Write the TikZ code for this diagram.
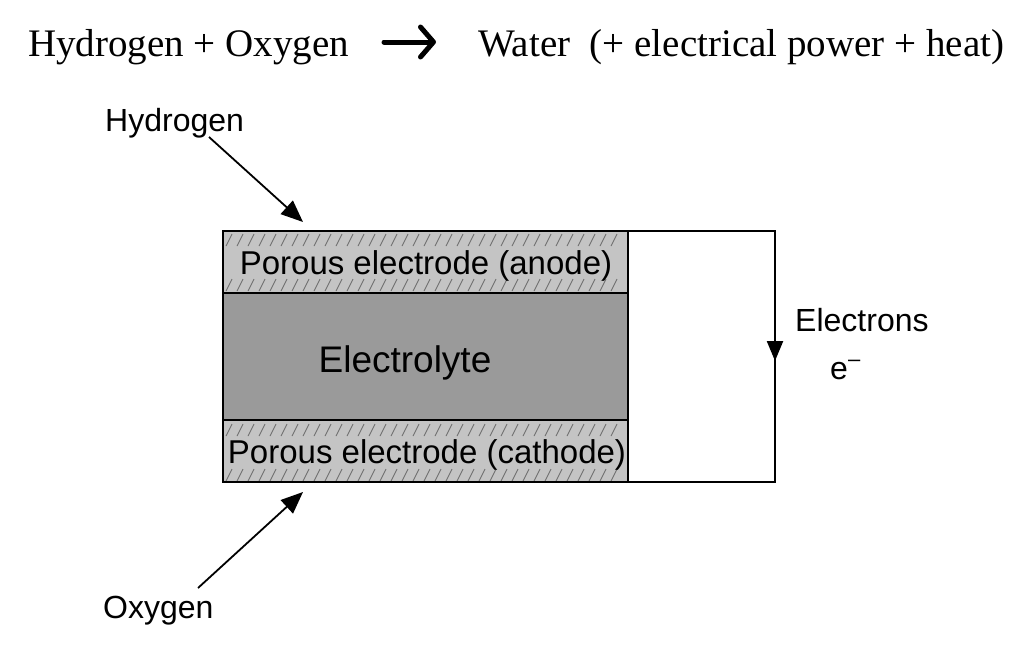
\documentclass[tikz,border=0pt]{standalone}
\usepackage{fontspec}
\setmainfont{Liberation Sans}
\newfontfamily\serifface{Liberation Serif}
\usetikzlibrary{arrows.meta}
\definecolor{electrodegray}{HTML}{C4C4C4}
\definecolor{lytegray}{HTML}{9A9A9A}
\definecolor{hatchgray}{HTML}{707070}
\tikzset{
  layer/.style={draw=black, line width=1.6pt},
  hatch/.style={draw=hatchgray, line width=0.9pt},
  lbl/.style={inner sep=0pt, anchor=base west, font=\fontsize{32}{38}\selectfont},
  feed/.style={line width=1.8pt, -{Triangle[length=22pt, width=18pt]}},
  wire/.style={line width=1.5pt}
}
\begin{document}
\begin{tikzpicture}[x=1pt,y=-1pt]
\useasboundingbox (0,0) rectangle (1009,649);
% top equation
\node[inner sep=0pt, anchor=base west, font=\serifface\fontsize{39}{45}\selectfont] (react) at (28,56) {Hydrogen + Oxygen};
\node[inner sep=0pt, anchor=base west, font=\serifface\fontsize{39}{45}\selectfont] (prod) at (478,56) {Water\ \ (+ electrical power + heat)};
\coordinate (eqa) at (384,42);
\coordinate (eqb) at (436,42);
\draw[line width=5pt, line cap=round, -{Straight Barb[length=13pt, width=30pt, line width=5pt, round]}] (eqa) -- (eqb);
% layers
\fill[electrodegray] (223,231) rectangle (628,293);
\fill[lytegray] (223,293) rectangle (628,420);
\fill[electrodegray] (223,420) rectangle (628,482);
% hatching rows
\foreach \y in {246,291,436,481}{
  \foreach \x in {226,237,...,620}{
    \draw[hatch] (\x,\y) -- ++(6,-12);
  }
}
\fill[electrodegray] (229,249) rectangle (624,277);
\fill[electrodegray] (229,438) rectangle (626,468);
\node[lbl, anchor=base, font=\fontsize{33}{39}\selectfont] (anode) at (426,274) {Porous electrode (anode)};
\node[lbl, anchor=base, font=\fontsize{33}{39}\selectfont] (cathode) at (427,463) {Porous electrode (cathode)};
\node[lbl, anchor=base, font=\fontsize{37}{42}\selectfont] (lyte) at (405,372) {Electrolyte};
\draw[layer] (223,231) rectangle (628,482);
\draw[layer] (223,293) -- (628,293);
\draw[layer] (223,420) -- (628,420);
% external circuit
\coordinate (c1) at (628,231);
\coordinate (c2) at (775,231);
\coordinate (c3) at (775,482);
\coordinate (c4) at (628,482);
\draw[wire] (c1) -- (c2) -- (c3) -- (c4);
\coordinate (ea) at (775,300);
\coordinate (eb) at (775,361);
\draw[line width=2.2pt, -{Triangle[length=20pt, width=16pt]}] (ea) -- (eb);
\node[lbl] (electrons) at (795,331) {Electrons};
\node[lbl] (eminus) at (830,379) {e\raisebox{13pt}{\fontsize{22}{22}\selectfont –}};
% gases
\node[lbl] (h2) at (105,131) {Hydrogen};
\node[lbl] (o2) at (103,618) {Oxygen};
\coordinate (h2s) at (209,137);
\coordinate (h2t) at (303,222);
\coordinate (o2s) at (198,588);
\coordinate (o2t) at (303,492);
\draw[feed] (h2s) -- (h2t);
\draw[feed] (o2s) -- (o2t);
\end{tikzpicture}
\end{document}
